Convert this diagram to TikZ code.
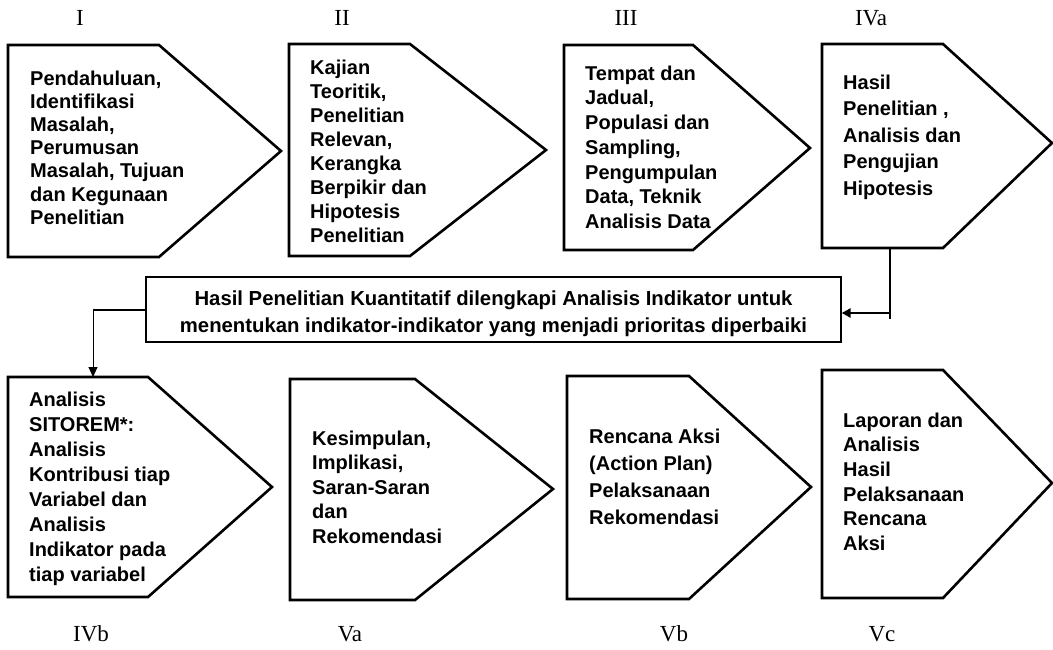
\documentclass[tikz,border=0pt]{standalone}
\usepackage{fontspec}
\setmainfont{Liberation Sans}
\newfontfamily\romfont{Liberation Serif}
\usetikzlibrary{arrows.meta}
\tikzset{
  pentline/.style={draw=black, line width=2.6pt, line join=miter},
  boxtext/.style={anchor=north west, inner sep=0pt, align=left, text=black},
  romlabel/.style={inner sep=0pt, font=\romfont\fontsize{23}{26}\selectfont},
  midbox/.style={draw=black, line width=1.3pt, minimum width=695pt, minimum height=65pt, inner sep=0pt, align=center,
    font=\fontsize{20.3}{27}\selectfont\bfseries},
  thickconn/.style={line width=2.4pt},
  thinconn/.style={line width=0.9pt},
}
\newcommand{\pentshape}[6]{\draw[pentline] (#1,#2) -- (#3,#2) -- (#4,#5) -- (#3,#6) -- (#1,#6) -- cycle;}
\begin{document}
\begin{tikzpicture}[x=1pt,y=-1pt]
\useasboundingbox (0,0) rectangle (1053,649);
\fill[white] (0,0) rectangle (1053,649);

% top row shapes
\pentshape{8}{45}{159}{281}{151}{257}
\pentshape{289}{44}{410}{546}{150}{256}
\pentshape{564}{45}{693}{810}{148}{250}
\pentshape{822}{44}{943}{1052}{143}{248}
% bottom row shapes
\pentshape{8}{377}{148}{272}{487}{597}
\pentshape{290}{379}{415}{553}{489}{600}
\pentshape{567}{376}{689}{811}{487}{599}
\pentshape{822}{370}{943}{1052}{483}{598}

% roman labels
\node[romlabel] (lI) at (80,18) {I};
\node[romlabel] (lII) at (342,18) {II};
\node[romlabel] (lIII) at (626,18) {III};
\node[romlabel] (lIVa) at (871,18) {IVa};
\node[romlabel] (lIVb) at (91,634) {IVb};
\node[romlabel] (lVa) at (350,634) {Va};
\node[romlabel] (lVb) at (674,634) {Vb};
\node[romlabel] (lVc) at (882,634) {Vc};

% box texts
\node[boxtext, font=\fontsize{20}{23.2}\selectfont\bfseries] (tI) at (30,70.5)
  {Pendahuluan,\\Identifikasi\\Masalah,\\Perumusan\\Masalah, Tujuan\\dan Kegunaan\\Penelitian};
\node[boxtext, font=\fontsize{20}{24}\selectfont\bfseries] (tII) at (310,59.5)
  {Kajian\\Teoritik,\\Penelitian\\Relevan,\\Kerangka\\Berpikir dan\\Hipotesis\\Penelitian};
\node[boxtext, font=\fontsize{20}{24.7}\selectfont\bfseries] (tIII) at (585,65.5)
  {Tempat dan\\Jadual,\\Populasi dan\\Sampling,\\Pengumpulan\\Data, Teknik\\Analisis Data};
\node[boxtext, font=\fontsize{20}{26.5}\selectfont\bfseries] (tIVa) at (843,74.5)
  {Hasil\\Penelitian ,\\Analisis dan\\Pengujian\\Hipotesis};
\node[boxtext, font=\fontsize{20}{25}\selectfont\bfseries] (tIVb) at (29,391.5)
  {Analisis\\SITOREM*:\\Analisis\\Kontribusi tiap\\Variabel dan\\Analisis\\Indikator pada\\tiap variabel};
\node[boxtext, font=\fontsize{20}{24.5}\selectfont\bfseries] (tVa) at (312,430.5)
  {Kesimpulan,\\Implikasi,\\Saran-Saran\\dan\\Rekomendasi};
\node[boxtext, font=\fontsize{20}{27}\selectfont\bfseries] (tVb) at (589,428.5)
  {Rencana Aksi\\(Action Plan)\\Pelaksanaan\\Rekomendasi};
\node[boxtext, font=\fontsize{20}{24.6}\selectfont\bfseries] (tVc) at (843,412.5)
  {Laporan dan\\Analisis\\Hasil\\Pelaksanaan\\Rencana\\Aksi};

% middle box
\node[midbox] (mid) at (493.5,309.5)
  {\rule{0pt}{22.5pt}Hasil Penelitian Kuantitatif dilengkapi Analisis Indikator untuk\\menentukan indikator-indikator yang menjadi prioritas diperbaiki};

% connectors
\coordinate (ivabot) at (890,248);
\coordinate (rjend) at (890,319);
\coordinate (rj) at (890,313);
\coordinate (lj) at (93,310);
\coordinate (ivbtop) at (93,377);
\draw[thickconn] (ivabot) -- (rjend);
\draw[thickconn, -{Triangle[length=9pt,width=9pt]}] (rj) -- (rj -| mid.east);
\draw[line width=2pt] (mid.west |- lj) -- (lj);
\draw[thinconn, -{Triangle[length=10pt,width=9pt]}] (lj) -- (ivbtop);
\end{tikzpicture}
\end{document}
